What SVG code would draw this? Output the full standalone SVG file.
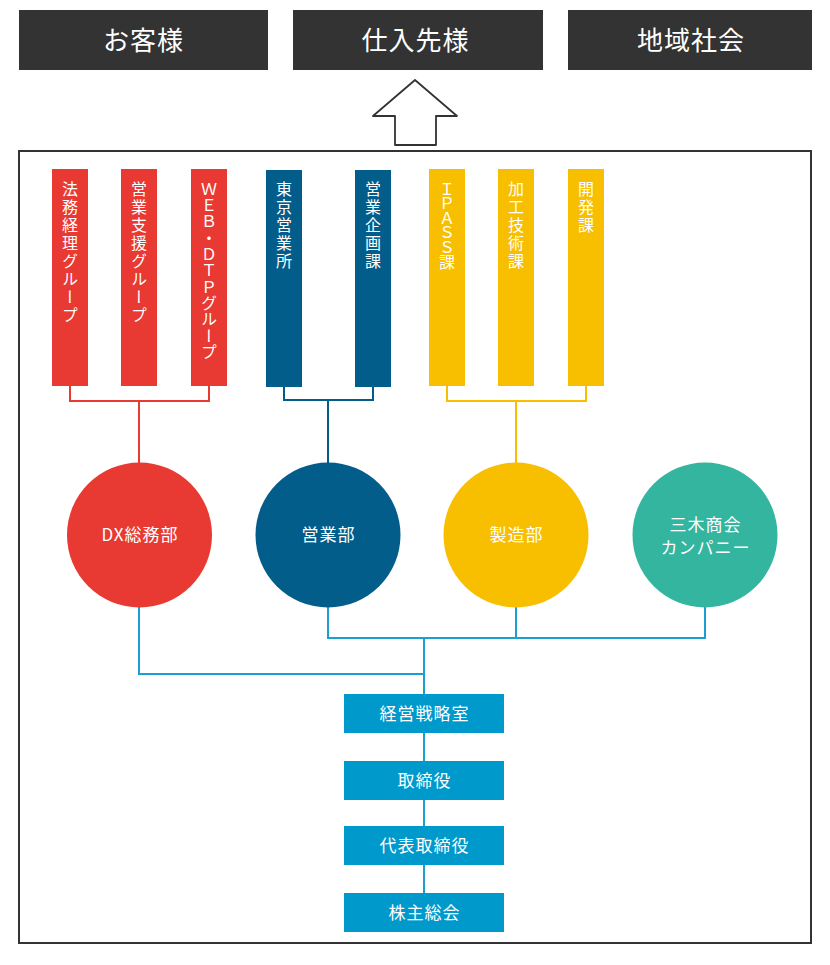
<svg xmlns="http://www.w3.org/2000/svg" width="830" height="965" viewBox="0 0 830 965">
<style>
text{font-family:"Noto Sans CJK JP","Noto Sans",sans-serif;fill:#fff}
.top{fill:#333}
.tt{font-size:26px;letter-spacing:1px}
.vt{font-size:16px;writing-mode:vertical-rl;letter-spacing:2px}
.vt.tight{letter-spacing:0.3px}
.vt.tighter{letter-spacing:-1.5px}
.ct{font-size:17px;letter-spacing:1px}
.red{fill:#e83932}
.blu{fill:#035d8b}
.yel{fill:#f8be00}
.tea{fill:#33b59f}
.box{fill:#0099cc}
.cr{stroke:#e83932}
.cb{stroke:#035d8b}
.cy{stroke:#f8be00}
.cl{stroke:#1a9fd3}
#connectors path{fill:none;stroke-width:2}
</style>
<g id="top-customers"><rect class="top" x="19" y="10" width="249" height="60"/><text class="tt" x="143.5" y="50" text-anchor="middle">お客様</text></g>
<g id="top-suppliers"><rect class="top" x="293" y="10" width="250" height="60"/><text class="tt" x="415.5" y="50" text-anchor="middle">仕入先様</text></g>
<g id="top-community"><rect class="top" x="568" y="10" width="244" height="60"/><text class="tt" x="691" y="50" text-anchor="middle">地域社会</text></g>
<g id="arrow"><path d="M415,80 L457,116 L436,116 L436,145 L395,145 L395,116 L373,116 Z" fill="#fff" stroke="#333" stroke-width="1.8" stroke-linejoin="round"/></g>
<g id="frame"><rect x="19" y="151" width="792" height="792" fill="none" stroke="#333" stroke-width="2"/></g>

<g id="connectors">
<path class="cr" d="M70,386 V401 H209 V386 M139,401 V463"/>
<path class="cb" d="M284,387 V400 H373 V387 M328,400 V463"/>
<path class="cy" d="M447,386 V401 H586 V386 M516,401 V463"/>
<path class="cl" d="M139,607 V674 H424 M328,607 V638 H705 V607 M516,607 V638 M424,638 V932"/>
</g>

<g id="bar-houmu"><rect class="red" x="52" y="169" width="36" height="217"/><text class="vt" x="70" y="181">法務経理グループ</text></g>
<g id="bar-eigyoshien"><rect class="red" x="121" y="169" width="36" height="217"/><text class="vt" x="139" y="181">営業支援グループ</text></g>
<g id="bar-webdtp"><rect class="red" x="191" y="169" width="36" height="217"/><text class="vt tight" x="209" y="181">ＷＥＢ・ＤＴＰグループ</text></g>
<g id="bar-tokyo"><rect class="blu" x="266" y="170" width="36" height="217"/><text class="vt" x="284" y="181">東京営業所</text></g>
<g id="bar-kikaku"><rect class="blu" x="355" y="170" width="36" height="217"/><text class="vt" x="373" y="181">営業企画課</text></g>
<g id="bar-ipass"><rect class="yel" x="429" y="169" width="36" height="217"/><text class="vt tighter" x="447" y="181">ＩＰＡＳＳ課</text></g>
<g id="bar-kakou"><rect class="yel" x="498" y="169" width="36" height="217"/><text class="vt" x="516" y="181">加工技術課</text></g>
<g id="bar-kaihatsu"><rect class="yel" x="568" y="169" width="36" height="217"/><text class="vt" x="586" y="181">開発課</text></g>

<g id="dept-dx"><circle class="red" cx="139.5" cy="535" r="72.5"/><text class="ct" x="140" y="541" text-anchor="middle">DX総務部</text></g>
<g id="dept-eigyo"><circle class="blu" cx="328" cy="535" r="72.5"/><text class="ct" x="328.5" y="541" text-anchor="middle">営業部</text></g>
<g id="dept-seizo"><circle class="yel" cx="516" cy="535" r="72.5"/><text class="ct" x="516.5" y="541" text-anchor="middle">製造部</text></g>
<g id="dept-miki"><circle class="tea" cx="705" cy="535" r="72.5"/><text class="ct" x="705.5" y="531" text-anchor="middle">三木商会</text><text class="ct" x="705.5" y="554" text-anchor="middle">カンパニー</text></g>

<g id="box-senryaku"><rect class="box" x="344" y="694" width="160" height="39"/><text class="ct" x="424.5" y="719.5" text-anchor="middle">経営戦略室</text></g>
<g id="box-torishimari"><rect class="box" x="344" y="761" width="160" height="39"/><text class="ct" x="424.5" y="786.5" text-anchor="middle">取締役</text></g>
<g id="box-daihyo"><rect class="box" x="344" y="826" width="160" height="39"/><text class="ct" x="424.5" y="851.5" text-anchor="middle">代表取締役</text></g>
<g id="box-kabunushi"><rect class="box" x="344" y="893" width="160" height="39"/><text class="ct" x="424.5" y="918.5" text-anchor="middle">株主総会</text></g>
</svg>
